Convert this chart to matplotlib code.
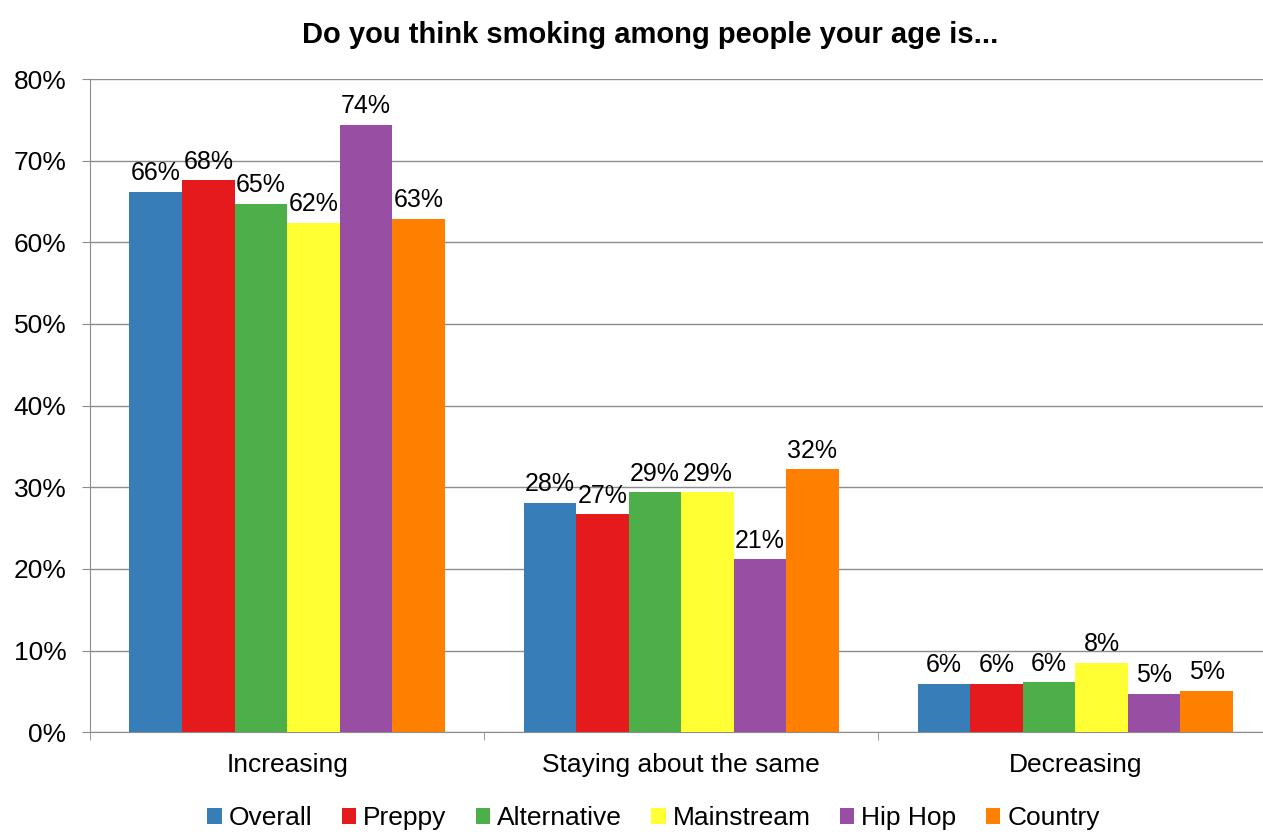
import numpy as np
import matplotlib.pyplot as plt

plt.rcParams['font.family'] = ['Liberation Sans', 'DejaVu Sans']

# Data
categories = ['Increasing', 'Staying about the same', 'Decreasing']
series = ['Overall', 'Preppy', 'Alternative', 'Mainstream', 'Hip Hop', 'Country']
values = {
    'Overall':     [66.2, 28.1, 5.9],
    'Preppy':      [67.6, 26.7, 5.9],
    'Alternative': [64.7, 29.4, 6.1],
    'Mainstream':  [62.4, 29.4, 8.5],
    'Hip Hop':     [74.4, 21.2, 4.7],
    'Country':     [62.9, 32.2, 5.1],
}
colors = ['#377EB8', '#E41A1C', '#4DAF4A', '#FFFF33', '#984EA3', '#FF7F00']

fig = plt.figure(figsize=(12.63, 8.32), dpi=100)
# axes run a little past the right edge, as in the original
ax = fig.add_axes([0.0713, 0.120, 0.936, 0.785])

n = len(series)
width = 0.8 / n
x = np.arange(len(categories))

for i, (name, col) in enumerate(zip(series, colors)):
    pos = x - 0.4 + width * (i + 0.5)
    vals = values[name]
    ax.bar(pos, vals, width, color=col, label=name, zorder=3)
    for p, v in zip(pos, vals):
        ax.text(p, v + 0.8, f'{v:.0f}%', ha='center', va='bottom', fontsize=18, zorder=4)

ax.set_xlim(-0.5, len(categories) - 0.5)
ax.set_ylim(0, 80)
ax.set_yticks(np.arange(0, 81, 10))
ax.set_yticklabels([f'{t}%' for t in range(0, 81, 10)], fontsize=19)
ax.yaxis.grid(True, color='#8c8c8c', linewidth=1, zorder=0)

ax.set_xticks(x)
ax.set_xticklabels(categories, fontsize=19)
ax.tick_params(axis='x', length=0, pad=15)
ax.set_xticks(np.arange(-0.5, len(categories), 1), minor=True)
ax.tick_params(axis='x', which='minor', length=6, color='#8c8c8c')
ax.tick_params(axis='y', length=6, color='#8c8c8c', pad=11)

for s in ['top', 'right']:
    ax.spines[s].set_visible(False)
for s in ['left', 'bottom']:
    ax.spines[s].set_color('#8c8c8c')

fig.text(0.515, 0.958, 'Do you think smoking among people your age is...', fontsize=21,
         fontweight='bold', ha='center', va='center')

fig.legend(*ax.get_legend_handles_labels(), loc='center', bbox_to_anchor=(0.5174, 0.0165),
           bbox_transform=fig.transFigure, ncol=6, frameon=False, fontsize=19,
           handlelength=0.55, handleheight=0.55, handletextpad=0.27,
           columnspacing=1.1, borderpad=0)

fig.savefig('out.png', dpi=100)
